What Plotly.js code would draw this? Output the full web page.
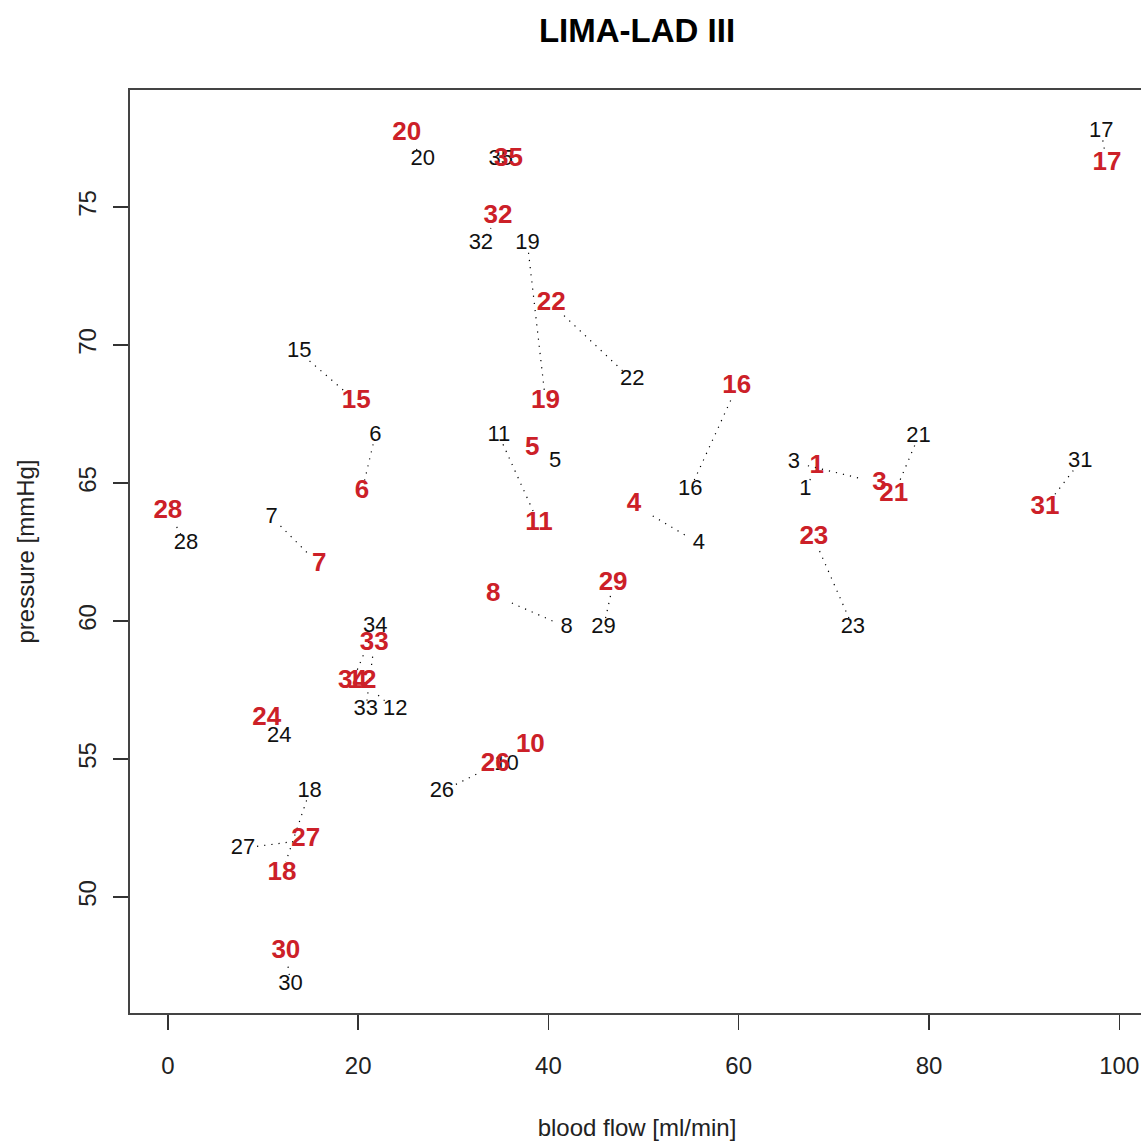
<!DOCTYPE html>
<html>
<head>
<meta charset="utf-8">
<script src="https://cdn.plot.ly/plotly-3.0.1.min.js"></script>
<style>
  html, body { margin: 0; padding: 0; overflow: hidden; background: #fff; }
  #chart { width: 1150px; height: 1144px; }
</style>
</head>
<body>
<div id="chart"></div>
<script>
// Case numbers
const ids = [1, 3, 4, 5, 6, 7, 8, 10, 11, 12, 15, 16, 17, 18, 19, 20, 21, 22, 23, 24, 26, 27, 28, 29, 30, 31, 32, 33, 34, 35];

// First measurement (black labels)
const flowA = [67.0, 65.8, 55.8, 40.7, 21.8, 10.9, 41.9, 35.6, 34.8, 23.9, 13.8, 54.9, 98.1, 14.9, 37.8, 26.8, 78.9, 48.8, 72.0, 11.7, 28.8, 7.9, 1.9, 45.8, 12.9, 95.9, 32.9, 20.8, 21.8, 35.0];
const pressA = [64.78, 65.75, 62.82, 65.78, 66.73, 63.77, 59.78, 54.79, 66.73, 56.79, 69.75, 64.78, 77.74, 53.83, 73.67, 76.74, 66.69, 68.74, 59.78, 55.82, 53.83, 51.77, 62.82, 59.78, 46.85, 65.78, 73.67, 56.79, 59.81, 76.74];

// Second measurement (red labels)
const flowB = [68.2, 74.8, 49.0, 38.3, 20.4, 15.9, 34.2, 38.1, 39.0, 20.4, 19.8, 59.8, 98.7, 12.0, 39.7, 25.1, 76.3, 40.3, 67.9, 10.4, 34.4, 14.5, 0.0, 46.8, 12.4, 92.2, 34.7, 21.7, 19.4, 35.8];
const pressB = [65.60, 65.00, 64.21, 66.24, 64.70, 62.04, 60.95, 55.48, 63.52, 57.81, 67.96, 68.48, 76.59, 50.87, 67.96, 77.65, 64.57, 71.50, 63.01, 56.48, 54.79, 52.07, 63.97, 61.35, 48.03, 64.13, 74.64, 59.18, 57.81, 76.74];

// Axis settings
const xRange = [-3.98, 102.6];
const yRange = [45.80, 79.24];
const xTicks = [0, 20, 40, 60, 80, 100];
const yTicks = [50, 55, 60, 65, 70, 75];

const W = 1150, H = 1144;
const M = {l: 130, r: 6, t: 90, b: 131};
const FONT = '"Liberation Sans", Arial, Helvetica, sans-serif';

// pixel scale (for trimming connectors so they stop at the labels)
const sx = (W - M.l - M.r) / (xRange[1] - xRange[0]);
const sy = (H - M.t - M.b) / (yRange[1] - yRange[0]);

function exitDist(ux, uy, hw, hh) {
  const a = Math.abs(ux) > 1e-9 ? hw / Math.abs(ux) : Infinity;
  const b = Math.abs(uy) > 1e-9 ? hh / Math.abs(uy) : Infinity;
  return Math.min(a, b);
}

const lx = [], ly = [];
for (let i = 0; i < ids.length; i++) {
  const dxp = (flowB[i] - flowA[i]) * sx;
  const dyp = (pressB[i] - pressA[i]) * sy;
  const len = Math.hypot(dxp, dyp);
  if (len < 1) continue;
  const ux = dxp / len, uy = dyp / len;
  const s0 = exitDist(ux, uy, 14, 9);
  const s1 = exitDist(ux, uy, 16, 11);
  if (s0 + s1 >= len - 1) continue;
  const f0 = s0 / len, f1 = 1 - s1 / len;
  lx.push(flowA[i] + (flowB[i] - flowA[i]) * f0, flowA[i] + (flowB[i] - flowA[i]) * f1, null);
  ly.push(pressA[i] + (pressB[i] - pressA[i]) * f0, pressA[i] + (pressB[i] - pressA[i]) * f1, null);
}

const traces = [
  {
    x: lx, y: ly, mode: 'lines', type: 'scatter', hoverinfo: 'skip',
    line: {color: '#000', width: 1.2, dash: '1.2px,6px'},
    showlegend: false
  },
  {
    x: flowA, y: pressA, text: ids.map(String), mode: 'text', type: 'scatter',
    textposition: 'middle center',
    textfont: {family: FONT, size: 22, color: '#111'},
    showlegend: false
  },
  {
    x: flowB, y: pressB, text: ids.map(String), mode: 'text', type: 'scatter',
    textposition: 'middle center',
    textfont: {family: FONT, size: 26, color: '#cc2028', weight: 'bold'},
    showlegend: false
  }
];

const axisCommon = {
  showgrid: false, zeroline: false,
  showline: true, mirror: true, linecolor: '#444', linewidth: 2,
  ticks: 'outside', ticklen: 15, tickwidth: 1.5, tickcolor: '#333',
  tickfont: {family: FONT, size: 24, color: '#222'},
  fixedrange: true
};

const layout = {
  width: W, height: H,
  margin: M,
  paper_bgcolor: '#fff', plot_bgcolor: '#fff',
  title: {
    text: 'LIMA-LAD III',
    font: {family: FONT, size: 33, color: '#000', weight: 'bold'},
    x: 0.5, xref: 'paper', xanchor: 'center',
    y: 1 - 30 / H, yref: 'container', yanchor: 'middle'
  },
  xaxis: Object.assign({}, axisCommon, {
    range: xRange, tickvals: xTicks, ticktext: xTicks.map(String),
    ticklabelstandoff: 15,
    title: {text: 'blood flow [ml/min]', font: {family: FONT, size: 24, color: '#222'}, standoff: 41}
  }),
  yaxis: Object.assign({}, axisCommon, {
    range: yRange, tickvals: yTicks, ticktext: yTicks.map(String),
    tickangle: -90, ticklabelstandoff: 7,
    title: {text: 'pressure [mmHg]', font: {family: FONT, size: 24, color: '#222'}, standoff: 33}
  }),
  showlegend: false
};

Plotly.newPlot('chart', traces, layout, {displayModeBar: false, staticPlot: true});
</script>
</body>
</html>
